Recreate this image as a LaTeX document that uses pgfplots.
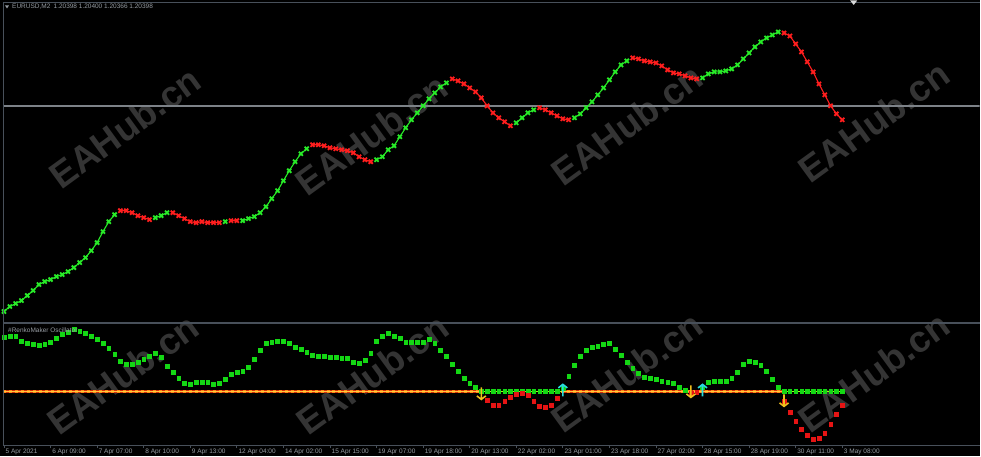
\documentclass[border=0pt]{standalone}
\usepackage{pgfplots}
\pgfplotsset{compat=1.18}
\usepackage{pgfplotstable}
\usepackage{fontspec}
\setmainfont{Liberation Sans}

\definecolor{topgreen}{RGB}{40,235,40}
\definecolor{topred}{RGB}{255,30,30}
\definecolor{dotgreen}{RGB}{20,215,20}
\definecolor{dotred}{RGB}{230,20,20}
\definecolor{zred}{RGB}{215,45,10}
\definecolor{zorange}{RGB}{255,140,20}
\definecolor{zyellow}{RGB}{255,200,60}
\definecolor{zgreen}{RGB}{160,255,20}
\definecolor{arrgold}{RGB}{240,190,30}
\definecolor{arrcyan}{RGB}{40,220,220}
\definecolor{border}{RGB}{72,80,90}
\definecolor{hline}{RGB}{125,130,136}
\definecolor{txtgray}{RGB}{150,156,162}
\definecolor{wmgray}{RGB}{52,52,52}

\pgfdeclareplotmark{arrdn}{%
  \pgfpathmoveto{\pgfpoint{0pt}{12pt}}\pgfpathlineto{\pgfpoint{0pt}{0pt}}%
  \pgfpathmoveto{\pgfpoint{-4.5pt}{3.5pt}}\pgfpathlineto{\pgfpoint{0pt}{0pt}}%
  \pgfpathlineto{\pgfpoint{4.5pt}{3.5pt}}\pgfusepathqstroke}
\pgfdeclareplotmark{arrup}{%
  \pgfpathmoveto{\pgfpoint{0pt}{-12pt}}\pgfpathlineto{\pgfpoint{0pt}{0pt}}%
  \pgfpathmoveto{\pgfpoint{-4.5pt}{-3.5pt}}\pgfpathlineto{\pgfpoint{0pt}{0pt}}%
  \pgfpathlineto{\pgfpoint{4.5pt}{-3.5pt}}\pgfusepathqstroke}

% price panel: bar index, line position (green / red)
\pgfplotstableread{
i g r
0 312 nan
1 307 nan
2 304 nan
3 301 nan
4 296 nan
5 291 nan
6 285 nan
7 282 nan
8 280 nan
9 277 nan
10 275 nan
11 272 nan
12 268 nan
13 263 nan
14 258 nan
15 251 nan
16 243 nan
17 232 nan
18 222 nan
19 215 nan
20 nan 211
21 nan 211
22 nan 213
23 nan 216
24 nan 218
25 nan 220
26 218 nan
27 216 nan
28 213 nan
29 nan 213
30 nan 216
31 nan 219
32 nan 222
33 nan 223
34 nan 222
35 nan 223
36 nan 223
37 nan 223
38 222 nan
39 nan 221
40 nan 221
41 221 nan
42 219 nan
43 217 nan
44 213 nan
45 207 nan
46 199 nan
47 191 nan
48 181 nan
49 171 nan
50 162 nan
51 154 nan
52 149 nan
53 nan 145
54 nan 145
55 nan 146
56 nan 148
57 nan 149
58 nan 150
59 nan 151
60 nan 153
61 nan 157
62 nan 160
63 nan 162
64 160 nan
65 157 nan
66 150 nan
67 146 nan
68 137 nan
69 128 nan
70 120 nan
71 113 nan
72 106 nan
73 99 nan
74 93 nan
75 87 nan
76 83 nan
77 nan 79
78 nan 81
79 nan 84
80 nan 88
81 nan 92
82 nan 98
83 nan 106
84 nan 113
85 nan 118
86 nan 122
87 nan 126
88 123 nan
89 118 nan
90 113 nan
91 110 nan
92 nan 108
93 nan 110
94 nan 113
95 nan 116
96 nan 119
97 nan 120
98 118 nan
99 114 nan
100 108 nan
101 102 nan
102 95 nan
103 88 nan
104 80 nan
105 72 nan
106 65 nan
107 61 nan
108 nan 58
109 nan 59
110 nan 61
111 nan 62
112 nan 63
113 nan 66
114 nan 70
115 nan 73
116 nan 74
117 nan 76
118 nan 78
119 nan 79
120 78 nan
121 74 nan
122 72 nan
123 72 nan
124 71 nan
125 69 nan
126 65 nan
127 59 nan
128 53 nan
129 47 nan
130 42 nan
131 38 nan
132 35 nan
133 32 nan
134 nan 33
135 nan 36
136 nan 44
137 nan 52
138 nan 62
139 nan 72
140 nan 84
141 nan 95
142 nan 106
143 nan 114
144 nan 120
}\toptab

% oscillator panel: bar index, value above zero (green) / below zero (red)
\pgfplotstableread{
i g r
0 54 nan
1 55 nan
2 55 nan
3 50 nan
4 48 nan
5 47 nan
6 46 nan
7 47 nan
8 49 nan
9 53 nan
10 57 nan
11 59 nan
12 62 nan
13 60 nan
14 58 nan
15 55 nan
16 52 nan
17 48 nan
18 43 nan
19 37 nan
20 30 nan
21 27 nan
22 27 nan
23 29 nan
24 32 nan
25 35 nan
26 38 nan
27 34 nan
28 25 nan
29 19 nan
30 13 nan
31 8 nan
32 7 nan
33 9 nan
34 9 nan
35 9 nan
36 7 nan
37 8 nan
38 12 nan
39 17 nan
40 19 nan
41 20 nan
42 24 nan
43 32 nan
44 41 nan
45 48 nan
46 49 nan
47 50 nan
48 50 nan
49 48 nan
50 44 nan
51 42 nan
52 39 nan
53 36 nan
54 35 nan
55 35 nan
56 34 nan
57 34 nan
58 33 nan
59 33 nan
60 29 nan
61 28 nan
62 31 nan
63 38 nan
64 50 nan
65 55 nan
66 58 nan
67 55 nan
68 53 nan
69 49 nan
70 49 nan
71 49 nan
72 49 nan
73 52 nan
74 48 nan
75 41 nan
76 35 nan
77 27 nan
78 20 nan
79 13 nan
80 8 nan
81 4 nan
82 0 nan
83 nan -9
84 nan -14
85 nan -14
86 nan -10
87 nan -6
88 nan -3
89 nan -2
90 nan -4
91 nan -10
92 nan -15
93 nan -16
94 nan -14
95 nan -7
96 3 nan
97 15 nan
98 26 nan
99 35 nan
100 41 nan
101 44 nan
102 45 nan
103 47 nan
104 48 nan
105 42 nan
106 36 nan
107 29 nan
108 23 nan
109 18 nan
110 14 nan
111 13 nan
112 12 nan
113 10 nan
114 9 nan
115 8 nan
116 4 nan
117 1 nan
118 nan -2
119 nan -1
120 4 nan
121 9 nan
122 10 nan
123 10 nan
124 10 nan
125 13 nan
126 19 nan
127 27 nan
128 30 nan
129 29 nan
130 26 nan
131 20 nan
132 12 nan
133 4 nan
134 nan -10
135 nan -21
136 nan -30
137 nan -38
138 nan -44
139 nan -48
140 nan -47
141 nan -42
142 nan -33
143 nan -23
144 nan -14
}\osctab

\begin{document}
\begin{tikzpicture}[x=1pt,y=1pt]
\fill[black] (0,0) rectangle (981,457);

% watermarks
\foreach \wx/\wy in {125/329, 372/322, 628/332, 875/335, 123/82, 373/82, 628/84, 875/84}
  \node[rotate=36, text=wmgray, font=\bfseries\fontsize{37}{37}\selectfont, inner sep=0pt] at (\wx,\wy) {EAHub.cn};

% price panel
\begin{axis}[at={(3pt,135pt)}, anchor=south west, scale only axis,
  width=978pt, height=319pt,
  xmin=-0.1715, xmax=167.58, ymin=3, ymax=322, y dir=reverse,
  axis lines=none, unbounded coords=jump]
\addplot[hline, line width=1.8pt] coordinates {(-0.1715,106.5) (167.58,106.5)};
\addplot[topgreen, line width=1.1pt, mark=x, mark size=2.9pt, mark options={line width=1.8pt}]
  table[x=i, y=g] {\toptab};
\addplot[topred, line width=1.1pt, mark=x, mark size=2.9pt, mark options={line width=1.8pt}]
  table[x=i, y=r] {\toptab};
\end{axis}

% oscillator panel
\begin{axis}[at={(3pt,11pt)}, anchor=south west, scale only axis,
  width=978pt, height=121pt,
  xmin=-0.1715, xmax=167.58, ymin=-54, ymax=67,
  axis x line=bottom, axis y line=none,
  x axis line style={-, draw=border, line width=1.2pt},
  xtick={0,8,...,144},
  xticklabels={5 Apr 2021, 6 Apr 09:00, 7 Apr 07:00, 8 Apr 10:00, 9 Apr 13:00,
    12 Apr 04:00, 14 Apr 02:00, 15 Apr 15:00, 19 Apr 07:00, 19 Apr 18:00,
    20 Apr 13:00, 22 Apr 02:00, 23 Apr 01:00, 23 Apr 18:00, 27 Apr 02:00,
    28 Apr 15:00, 28 Apr 19:00, 30 Apr 11:00, 3 May 08:00},
  tick align=outside, major tick length=3pt,
  tick style={draw=border, line width=0.8pt},
  xticklabel style={anchor=north west, inner sep=0pt, xshift=1.5pt, yshift=-0.5pt,
    text=txtgray, font=\fontsize{6.5}{7}\selectfont},
  unbounded coords=discard]
% zero line
\addplot[zred, line width=3.2pt] coordinates {(-0.1715,0) (82,0)};
\addplot[zorange, line width=3.2pt, dash pattern=on 3pt off 3pt] coordinates {(-0.1715,0) (82,0)};
\addplot[zyellow, line width=0.9pt] coordinates {(-0.1715,0) (82,0)};
\addplot[zred, line width=3.2pt] coordinates {(95.7,0) (133.6,0)};
\addplot[zorange, line width=3.2pt, dash pattern=on 3pt off 3pt] coordinates {(95.7,0) (133.6,0)};
\addplot[zyellow, line width=0.9pt] coordinates {(95.7,0) (133.6,0)};
\addplot[zgreen, line width=1.4pt] coordinates {(82,0) (95.7,0)};
\addplot[zgreen, line width=1.4pt] coordinates {(133.6,0) (144,0)};
\addplot[only marks, mark=square*, mark size=1.8pt, dotgreen] coordinates {
  (82,0)(83,0)(84,0)(85,0)(86,0)(87,0)(88,0)(89,0)(90,0)(91,0)(92,0)(93,0)(94,0)(95,0)
  (134,0)(135,0)(136,0)(137,0)(138,0)(139,0)(140,0)(141,0)(142,0)(143,0)(144,0)};
% oscillator dots
\addplot[only marks, mark=square*, mark size=1.9pt, dotgreen] table[x=i, y=g] {\osctab};
\addplot[only marks, mark=square*, mark size=1.9pt, dotred] table[x=i, y=r] {\osctab};
% signal arrows
\addplot[only marks, mark=arrdn, arrgold, line width=1.6pt] coordinates {(82,-8) (118,-6) (134,-15)};
\addplot[only marks, mark=arrup, arrcyan, line width=1.6pt] coordinates {(96,7) (120,7)};
\end{axis}

% window frame
\draw[border, line width=3pt] (3,133.5) -- (981,133.5);
\draw[border, line width=1pt] (3,454) -- (981,454);
\draw[border, line width=1pt] (3.5,11) -- (3.5,454);
\fill[white!85!black] (851.5,456.5) -- (858.5,456.5) -- (855,452) -- cycle;

% captions
\fill[txtgray] (5,451.5) -- (9,451.5) -- (7,448.5) -- cycle;
\node[anchor=west, inner sep=0pt, text=txtgray, font=\fontsize{6.5}{7}\selectfont]
  at (12,450) {EURUSD,M2\enspace 1.20398 1.20400 1.20366 1.20398};
\node[anchor=west, inner sep=0pt, text=txtgray, font=\fontsize{6.5}{7}\selectfont]
  at (8,126) {\#RenkoMaker Oscillator};
\end{tikzpicture}
\end{document}
